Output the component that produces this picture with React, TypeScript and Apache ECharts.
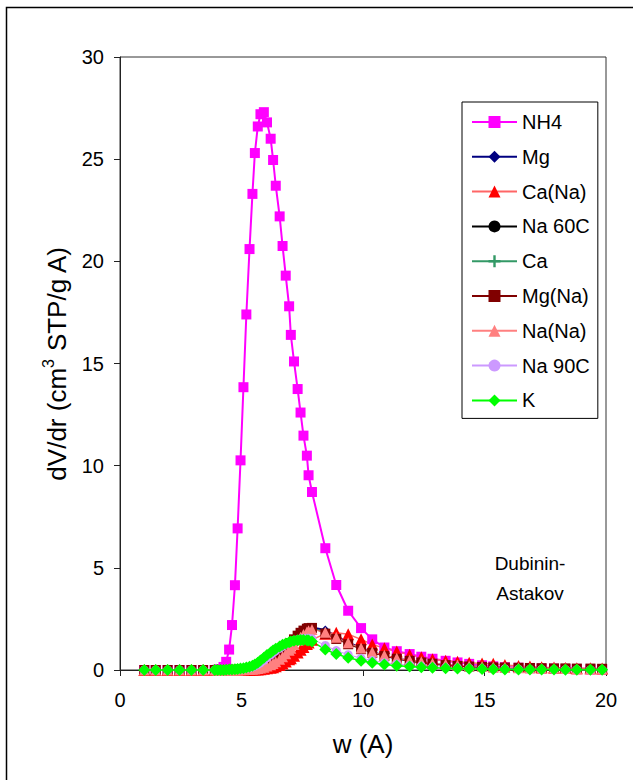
import React, { useEffect, useRef } from "react";
import * as echarts from "echarts";

// pore width w (A), shared by every series
const W = [
  1.0, 1.47, 1.96, 2.45, 2.94, 3.42, 3.9, 4.02, 4.14, 4.26,
  4.37, 4.49, 4.61, 4.73, 4.84, 4.96, 5.08, 5.2, 5.33, 5.45,
  5.55, 5.67, 5.78, 5.92, 6.05, 6.2, 6.3, 6.41, 6.57, 6.69,
  6.82, 6.96, 7.03, 7.16, 7.31, 7.43, 7.55, 7.69, 7.76, 7.9,
  8.45, 8.9, 9.39, 9.92, 10.38, 10.88, 11.39, 11.92, 12.4, 12.86,
  13.4, 13.89, 14.37, 14.9, 15.36, 15.84, 16.4, 16.87, 17.35, 17.86,
  18.33, 18.8, 19.36, 19.84,
];

const NH4 = [
  0, 0, 0, 0, 0, 0, 0, 0.02, 0.05, 0.15,
  0.4, 1.0, 2.2, 4.15, 6.93, 10.26, 13.84, 17.4, 20.6, 23.3,
  25.3, 26.6, 27.2, 27.3, 26.8, 26.0, 24.96, 23.7, 22.2, 20.75,
  19.3, 17.8, 16.4, 15.1, 13.75, 12.6, 11.47, 10.49, 9.53, 8.71,
  5.96, 4.16, 2.9, 2.05, 1.5, 1.1, 0.92, 0.78, 0.65, 0.55,
  0.45, 0.37, 0.3, 0.23, 0.18, 0.14, 0.11, 0.09, 0.07, 0.06,
  0.05, 0.04, 0.03, 0.03,
];

const MG = [
  0, 0, 0, 0, 0, 0, 0, 0, 0, 0,
  0, 0, 0, 0, 0.01, 0.01, 0.02, 0.03, 0.04, 0.06,
  0.08, 0.11, 0.15, 0.2, 0.27, 0.36, 0.44, 0.54, 0.7, 0.84,
  1.0, 1.18, 1.28, 1.46, 1.64, 1.78, 1.9, 2.0, 2.04, 2.08,
  1.96, 1.65, 1.35, 1.08, 0.88, 0.7, 0.56, 0.45, 0.37, 0.3,
  0.25, 0.21, 0.18, 0.15, 0.13, 0.11, 0.1, 0.09, 0.08, 0.07,
  0.06, 0.06, 0.05, 0.05,
];

const CA_NA = [
  0, 0, 0, 0, 0, 0, 0, 0, 0, 0,
  0, 0, 0, 0, 0, 0, 0, 0.01, 0.01, 0.02,
  0.02, 0.03, 0.04, 0.06, 0.08, 0.11, 0.14, 0.18, 0.25, 0.32,
  0.41, 0.52, 0.58, 0.7, 0.86, 0.99, 1.12, 1.27, 1.35, 1.48,
  1.78, 1.82, 1.75, 1.5, 1.25, 1.07, 0.9, 0.75, 0.62, 0.53,
  0.45, 0.4, 0.36, 0.32, 0.3, 0.24, 0.2, 0.17, 0.14, 0.12,
  0.1, 0.09, 0.08, 0.07,
];

const NA_60C = [
  0, 0, 0, 0, 0, 0, 0, 0, 0, 0,
  0, 0, 0, 0.01, 0.01, 0.02, 0.03, 0.04, 0.05, 0.07,
  0.1, 0.13, 0.17, 0.23, 0.31, 0.41, 0.5, 0.6, 0.76, 0.9,
  1.06, 1.24, 1.34, 1.52, 1.7, 1.83, 1.93, 2.0, 2.02, 2.02,
  1.85, 1.58, 1.3, 1.05, 0.86, 0.69, 0.55, 0.45, 0.37, 0.3,
  0.25, 0.21, 0.18, 0.15, 0.13, 0.11, 0.1, 0.09, 0.08, 0.07,
  0.06, 0.05, 0.05, 0.04,
];

const CA = [
  0, 0, 0, 0, 0, 0, 0, 0, 0, 0,
  0, 0, 0, 0, 0, 0.01, 0.02, 0.03, 0.04, 0.05,
  0.07, 0.09, 0.12, 0.17, 0.23, 0.31, 0.38, 0.47, 0.62, 0.76,
  0.92, 1.1, 1.2, 1.38, 1.57, 1.72, 1.85, 1.95, 1.99, 2.02,
  1.9, 1.6, 1.3, 1.05, 0.86, 0.7, 0.56, 0.45, 0.37, 0.3,
  0.25, 0.21, 0.18, 0.15, 0.13, 0.11, 0.1, 0.09, 0.08, 0.07,
  0.06, 0.05, 0.05, 0.04,
];

const MG_NA = [
  0, 0, 0, 0, 0, 0, 0, 0, 0, 0,
  0, 0, 0, 0.01, 0.01, 0.02, 0.03, 0.04, 0.05, 0.07,
  0.09, 0.12, 0.16, 0.22, 0.3, 0.4, 0.48, 0.58, 0.74, 0.88,
  1.04, 1.22, 1.32, 1.5, 1.68, 1.82, 1.93, 2.02, 2.05, 2.06,
  1.78, 1.52, 1.26, 1.02, 0.84, 0.68, 0.55, 0.45, 0.37, 0.31,
  0.24, 0.2, 0.17, 0.15, 0.13, 0.12, 0.11, 0.1, 0.09, 0.08,
  0.08, 0.07, 0.07, 0.06,
];

const NA_NA = [
  0, 0, 0, 0, 0, 0, 0, 0, 0, 0,
  0, 0, 0, 0, 0, 0.01, 0.01, 0.02, 0.03, 0.04,
  0.05, 0.07, 0.1, 0.14, 0.19, 0.26, 0.32, 0.4, 0.53, 0.65,
  0.8, 0.97, 1.07, 1.25, 1.45, 1.6, 1.74, 1.86, 1.92, 1.98,
  1.85, 1.6, 1.33, 1.08, 0.88, 0.72, 0.58, 0.48, 0.4, 0.33,
  0.28, 0.24, 0.2, 0.17, 0.15, 0.13, 0.11, 0.1, 0.09, 0.08,
  0.07, 0.06, 0.06, 0.05,
];

const NA_90C = [
  0, 0, 0, 0, 0, 0, 0, 0, 0, 0,
  0, 0.01, 0.01, 0.02, 0.03, 0.04, 0.06, 0.08, 0.11, 0.15,
  0.2, 0.27, 0.35, 0.47, 0.6, 0.74, 0.84, 0.94, 1.06, 1.16,
  1.25, 1.34, 1.38, 1.44, 1.49, 1.52, 1.54, 1.55, 1.55, 1.53,
  1.2, 0.95, 0.75, 0.58, 0.46, 0.36, 0.29, 0.23, 0.19, 0.15,
  0.12, 0.1, 0.08, 0.07, 0.06, 0.05, 0.04, 0.03, 0.03, 0.02,
  0.02, 0.02, 0.01, 0.01,
];

const K = [
  0, 0, 0, 0, 0, 0, 0, 0, 0, 0,
  0.01, 0.02, 0.03, 0.04, 0.05, 0.07, 0.09, 0.12, 0.16, 0.21,
  0.27, 0.36, 0.46, 0.6, 0.74, 0.86, 0.95, 1.04, 1.15, 1.24,
  1.3, 1.36, 1.39, 1.43, 1.46, 1.47, 1.47, 1.46, 1.44, 1.4,
  1.0, 0.78, 0.6, 0.45, 0.35, 0.27, 0.21, 0.17, 0.14, 0.11,
  0.09, 0.07, 0.06, 0.05, 0.04, 0.03, 0.03, 0.02, 0.02, 0.02,
  0.01, 0.01, 0.01, 0.01,
];

const X_TICKS = { min: 0, max: 20, interval: 5 };
const Y_TICKS = { min: 0, max: 30, interval: 5 };

const FONT = "'Liberation Sans', Arial, sans-serif";
const PLUS = "path://M4,0H6V4H10V6H6V10H4V6H0V4H4Z";

type Def = {
  name: string;
  data: number[];
  line: string;
  lineWidth: number;
  marker: string;
  symbol: string;
  size: number;
};

const DEFS: Def[] = [
  { name: "NH4", data: NH4, line: "#FF00FF", lineWidth: 2, marker: "#FF00FF", symbol: "rect", size: 10 },
  { name: "Mg", data: MG, line: "#000080", lineWidth: 2, marker: "#000080", symbol: "diamond", size: 9 },
  { name: "Ca(Na)", data: CA_NA, line: "#FF6666", lineWidth: 1.5, marker: "#FF0000", symbol: "triangle", size: 12 },
  { name: "Na 60C", data: NA_60C, line: "#000000", lineWidth: 1, marker: "#000000", symbol: "circle", size: 8 },
  { name: "Ca", data: CA, line: "#339966", lineWidth: 1, marker: "#339966", symbol: PLUS, size: 7 },
  { name: "Mg(Na)", data: MG_NA, line: "#800000", lineWidth: 1, marker: "#800000", symbol: "rect", size: 10 },
  { name: "Na(Na)", data: NA_NA, line: "#FF8080", lineWidth: 1, marker: "#FF8080", symbol: "triangle", size: 11 },
  { name: "Na 90C", data: NA_90C, line: "#CC99FF", lineWidth: 1, marker: "#CC99FF", symbol: "circle", size: 9 },
  { name: "K", data: K, line: "#00FF00", lineWidth: 1.5, marker: "#00FF00", symbol: "diamond", size: 12 },
];

function buildOption() {
  return {
    animation: false,
    backgroundColor: "#ffffff",
    textStyle: { fontFamily: FONT },
    grid: {
      left: 120,
      top: 57,
      width: 486,
      height: 613,
      show: true,
      borderColor: "#333333",
      borderWidth: 1,
      backgroundColor: "transparent",
    },
    legend: {
      orient: "vertical",
      left: 462,
      top: 102,
      itemWidth: 45,
      itemHeight: 15,
      itemGap: 14.8,
      padding: [10, 8, 8, 9],
      borderColor: "#000000",
      borderWidth: 1,
      selectedMode: false,
      data: DEFS.map((d) => d.name),
      textStyle: { fontFamily: FONT, fontSize: 20, color: "#000000", lineHeight: 20 },
    },
    xAxis: {
      type: "value",
      ...X_TICKS,
      name: "w (A)",
      nameLocation: "middle",
      nameGap: 61,
      nameTextStyle: { fontFamily: FONT, fontSize: 26, color: "#000000" },
      axisLine: { show: true, onZero: false, lineStyle: { color: "#222222", width: 1 } },
      axisTick: { show: true, inside: false, length: 6, lineStyle: { color: "#222222" } },
      axisLabel: { margin: 20, fontFamily: FONT, fontSize: 20, color: "#000000" },
      splitLine: { show: false },
    },
    yAxis: {
      type: "value",
      ...Y_TICKS,
      name: "{a|dV/dr (cm}{s|3}{a| STP/g A)}",
      nameLocation: "middle",
      nameGap: 50,
      nameRotate: 90,
      nameTextStyle: {
        color: "#000000",
        rich: {
          a: { fontFamily: FONT, fontSize: 26, color: "#000000", lineHeight: 30, verticalAlign: "bottom" },
          s: { fontFamily: FONT, fontSize: 16, color: "#000000", lineHeight: 30, verticalAlign: "top" },
        },
      },
      axisLine: { show: true, lineStyle: { color: "#222222", width: 1 } },
      axisTick: { show: true, inside: false, length: 6, lineStyle: { color: "#222222" } },
      axisLabel: { margin: 16, fontFamily: FONT, fontSize: 20, color: "#000000" },
      splitLine: { show: false },
    },
    graphic: [
      {
        type: "rect",
        silent: true,
        shape: { x: 6.5, y: 7.5, width: 720, height: 820 },
        style: { fill: "none", stroke: "#000000", lineWidth: 1.5 },
      },
      {
        type: "text",
        silent: true,
        x: 530,
        y: 548,
        style: {
          text: "Dubinin-\nAstakov",
          fontFamily: FONT,
          fontSize: 19,
          lineHeight: 30,
          fill: "#000000",
          align: "center",
          verticalAlign: "top",
        },
      },
    ],
    series: DEFS.map((d) => ({
      name: d.name,
      type: "line",
      data: W.map((w, i) => [w, d.data[i]]),
      symbol: d.symbol,
      symbolSize: d.size,
      showSymbol: true,
      showAllSymbol: true,
      clip: false,
      lineStyle: { color: d.line, width: d.lineWidth },
      itemStyle: { color: d.marker, borderColor: d.marker, borderWidth: 0 },
      emphasis: { disabled: true },
    })),
  };
}

export default function App() {
  const ref = useRef<HTMLDivElement>(null);
  useEffect(() => {
    if (!ref.current) return;
    const chart = echarts.init(ref.current, null, { renderer: "svg" });
    chart.setOption(buildOption() as any);
    return () => chart.dispose();
  }, []);
  return (
    <div
      ref={ref}
      style={{ position: "fixed", left: 0, top: 0, width: 633, height: 780, background: "#ffffff" }}
    />
  );
}
